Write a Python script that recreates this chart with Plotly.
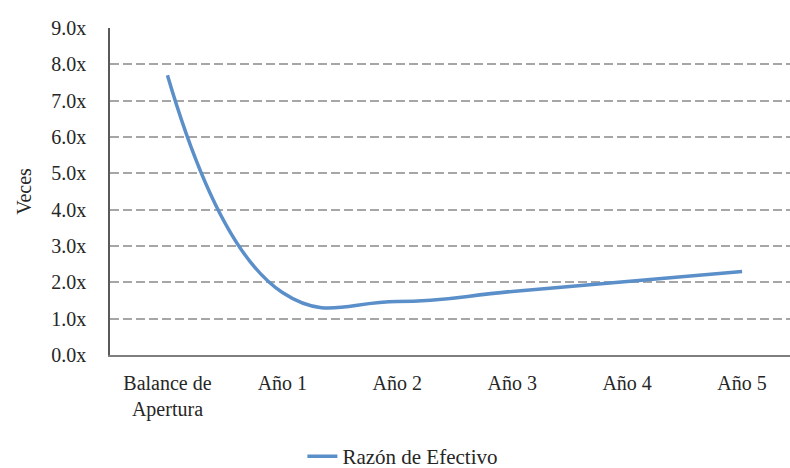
import plotly.graph_objects as go

# Cash ratio by period
categories = ["Balance de<br>Apertura", "Año 1", "Año 2", "Año 3", "Año 4", "Año 5"]
razon_efectivo = [7.7, 1.72, 1.47, 1.75, 2.02, 2.3]
y_ticks = [0, 1, 2, 3, 4, 5, 6, 7, 8, 9]

serif = "Liberation Serif"
text_color = "#262626"

fig = go.Figure()
fig.add_trace(go.Scatter(
    x=categories,
    y=razon_efectivo,
    mode="lines",
    name="Razón de Efectivo",
    line=dict(color="#5B8FC9", width=3.5, shape="spline", smoothing=1.3),
))

fig.update_layout(
    width=790,
    height=468,
    margin=dict(l=110, r=0, t=28, b=113),
    paper_bgcolor="white",
    plot_bgcolor="white",
    font=dict(family=serif, size=20, color=text_color),
    showlegend=True,
    legend=dict(
        orientation="h",
        xref="container",
        yref="container",
        x=0.51,
        xanchor="center",
        y=(468 - 436) / 468,
        yanchor="top",
        font=dict(family=serif, size=21, color=text_color),
    ),
)

fig.update_xaxes(
    type="category",
    range=[-0.5, 5.417],
    showgrid=False,
    showline=True,
    linecolor="#7f7f7f",
    linewidth=2,
    ticks="",
    tickfont=dict(family=serif, size=20, color=text_color),
    ticklabelstandoff=9,
)

fig.update_yaxes(
    range=[0, 9],
    tickvals=y_ticks,
    ticktext=[f"{v:.1f}x" for v in y_ticks],
    showgrid=True,
    gridcolor="#a6a6a6",
    gridwidth=1.5,
    griddash="9px,4px",
    zeroline=False,
    showline=True,
    linecolor="#595959",
    linewidth=1.5,
    ticks="",
    ticklabelstandoff=18,
    tickfont=dict(family=serif, size=20, color=text_color),
    title=dict(text="Veces", font=dict(family=serif, size=20, color=text_color), standoff=14),
)

fig.write_html("out.html")
